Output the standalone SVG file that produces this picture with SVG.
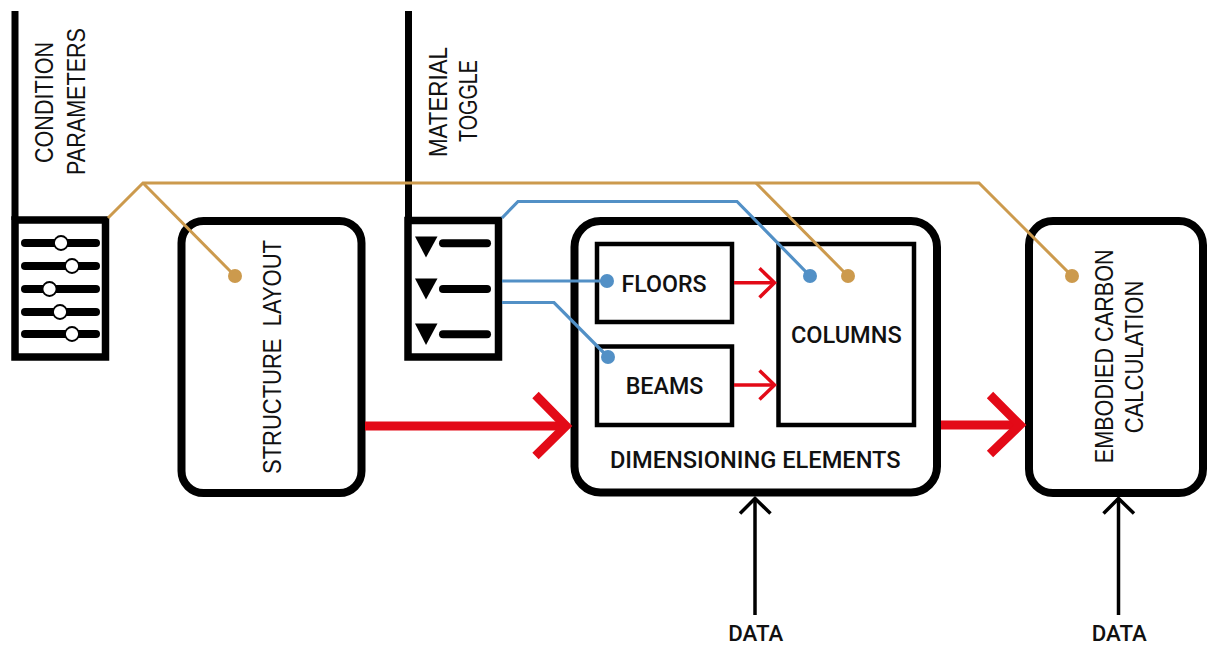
<svg xmlns="http://www.w3.org/2000/svg" width="1208" height="646" viewBox="0 0 1208 646">
<defs>
<style>
.box{fill:#fff;stroke:#000;stroke-width:8}
.panel{fill:#fff;stroke:#000;stroke-width:7.5}
.sub{fill:#fff;stroke:#000;stroke-width:4.5}
.bar{stroke:#000;stroke-width:8;stroke-linecap:round;fill:none}
.knob{fill:#fff;stroke:#000;stroke-width:1.8}
.vt{font-family:"Liberation Sans",Arial,sans-serif;font-size:25px;fill:#111;text-anchor:middle}
.ht{font-family:Roboto,"Liberation Sans",sans-serif;font-weight:500;font-size:24px;fill:#111;text-anchor:middle}
.dt{font-family:Roboto,"Liberation Sans",sans-serif;font-weight:500;font-size:22px;fill:#111;text-anchor:middle}
.gold{stroke:#CC9A4D;stroke-width:3;fill:none}
.blue{stroke:#5290C6;stroke-width:3.2;fill:none}
.red{stroke:#E30A17;fill:none}
.blk{stroke:#000;stroke-width:3.5;fill:none}
</style>
</defs>
<rect width="1208" height="646" fill="#fff"/>

<g id="condition-parameters">
<line x1="15" y1="11" x2="15" y2="220" stroke="#000" stroke-width="7"/>
<rect class="panel" x="15" y="220" width="90.5" height="137"/>
<line class="bar" x1="25" y1="243" x2="96" y2="243"/>
<line class="bar" x1="25" y1="266" x2="96" y2="266"/>
<line class="bar" x1="25" y1="289" x2="96" y2="289"/>
<line class="bar" x1="25" y1="312" x2="96" y2="312"/>
<line class="bar" x1="25" y1="334" x2="96" y2="334"/>
<circle class="knob" cx="61" cy="243" r="7"/>
<circle class="knob" cx="72" cy="266" r="7"/>
<circle class="knob" cx="49.5" cy="289" r="7"/>
<circle class="knob" cx="60" cy="312" r="7"/>
<circle class="knob" cx="72" cy="334" r="7"/>
<text class="vt" transform="translate(53,102.5) rotate(-90)" textLength="121" lengthAdjust="spacingAndGlyphs">CONDITION</text>
<text class="vt" transform="translate(85,101.5) rotate(-90)" textLength="147" lengthAdjust="spacingAndGlyphs">PARAMETERS</text>
</g>

<g id="material-toggle">
<line x1="408.5" y1="11" x2="408.5" y2="221" stroke="#000" stroke-width="7"/>
<rect class="panel" x="408" y="220.5" width="90.5" height="136.5"/>
<polygon points="415,236.5 437.5,236.5 426,257.5" fill="#000"/>
<polygon points="415,278.5 437.5,278.5 426,299.5" fill="#000"/>
<polygon points="415,323.5 437.5,323.5 426,345" fill="#000"/>
<line class="bar" x1="443" y1="243.3" x2="487" y2="243.3"/>
<line class="bar" x1="443" y1="289" x2="487" y2="289"/>
<line class="bar" x1="443" y1="334.3" x2="487" y2="334.3"/>
<text class="vt" transform="translate(447,102) rotate(-90)" textLength="110" lengthAdjust="spacingAndGlyphs">MATERIAL</text>
<text class="vt" transform="translate(477,101) rotate(-90)" textLength="82" lengthAdjust="spacingAndGlyphs">TOGGLE</text>
</g>

<g id="structure-layout">
<rect class="box" x="181.5" y="221" width="180" height="272" rx="22"/>
<text class="vt" transform="translate(281,357) rotate(-90)" textLength="234" lengthAdjust="spacingAndGlyphs" xml:space="preserve">STRUCTURE  LAYOUT</text>
</g>

<g id="dimensioning-elements">
<rect class="box" x="574.5" y="221" width="362.5" height="271.5" rx="26"/>
<text class="ht" x="755.3" y="467.7" textLength="290.7" lengthAdjust="spacingAndGlyphs">DIMENSIONING ELEMENTS</text>
</g>

<g id="floors">
<rect class="sub" x="597" y="244" width="135" height="78"/>
<text class="ht" x="664" y="292.3" textLength="85" lengthAdjust="spacingAndGlyphs">FLOORS</text>
</g>

<g id="beams">
<rect class="sub" x="597" y="346.5" width="135" height="78.5"/>
<text class="ht" x="664.5" y="394" textLength="77.6" lengthAdjust="spacingAndGlyphs">BEAMS</text>
</g>

<g id="columns">
<rect class="sub" x="778.5" y="244" width="135.5" height="181"/>
<text class="ht" x="846.3" y="343.3" textLength="110.7" lengthAdjust="spacingAndGlyphs">COLUMNS</text>
</g>

<g id="embodied-carbon">
<rect class="box" x="1029" y="221" width="174" height="272" rx="24"/>
<text class="vt" transform="translate(1112.7,356.3) rotate(-90)" textLength="214" lengthAdjust="spacingAndGlyphs">EMBODIED CARBON</text>
<text class="vt" transform="translate(1143,357) rotate(-90)" textLength="152.7" lengthAdjust="spacingAndGlyphs">CALCULATION</text>
</g>

<g id="data-labels">
<text class="dt" x="755.8" y="640.5" textLength="55" lengthAdjust="spacingAndGlyphs">DATA</text>
<text class="dt" x="1119.2" y="640.5" textLength="55" lengthAdjust="spacingAndGlyphs">DATA</text>
</g>

<g id="connectors">
<polyline class="gold" points="108,218 143,183 979,183 1072,276"/>
<line class="gold" x1="143" y1="183" x2="235" y2="276"/>
<line class="gold" x1="756" y1="183" x2="848" y2="276"/>
<circle cx="235" cy="276" r="7" fill="#CC9A4D"/>
<circle cx="848" cy="276" r="7" fill="#CC9A4D"/>
<circle cx="1072" cy="276" r="7" fill="#CC9A4D"/>
<polyline class="blue" points="502,218 518,201.5 737,201.5 810,276"/>
<line class="blue" x1="502" y1="281" x2="607" y2="281"/>
<polyline class="blue" points="502,302.5 554,302.5 608,357"/>
<circle cx="810" cy="276" r="7" fill="#5290C6"/>
<circle cx="607" cy="281" r="7" fill="#5290C6"/>
<circle cx="608" cy="357" r="7" fill="#5290C6"/>
<line class="red" stroke-width="3.5" x1="734" y1="282.7" x2="775" y2="282.7"/>
<polyline class="red" stroke-width="3.5" points="759.5,268.3 774.5,282.7 759.5,297.5"/>
<line class="red" stroke-width="3.5" x1="734" y1="385" x2="775" y2="385"/>
<polyline class="red" stroke-width="3.5" points="759.5,370.5 774.5,385 759.5,399.5"/>
<line class="red" stroke-width="9" x1="365" y1="426" x2="566" y2="426"/>
<polyline class="red" stroke-width="9" points="535.5,395 566,426 535.5,456"/>
<line class="red" stroke-width="9" x1="941" y1="425" x2="1020" y2="425"/>
<polyline class="red" stroke-width="9" points="990,395 1020,425 990,454"/>
<line class="blk" x1="755" y1="615" x2="755" y2="498"/>
<polyline class="blk" points="740,513.5 755,498.5 770.5,513.5"/>
<line class="blk" x1="1118.5" y1="615" x2="1118.5" y2="498"/>
<polyline class="blk" points="1103.5,513.5 1118.5,498.5 1134,513.5"/>
</g>
</svg>
